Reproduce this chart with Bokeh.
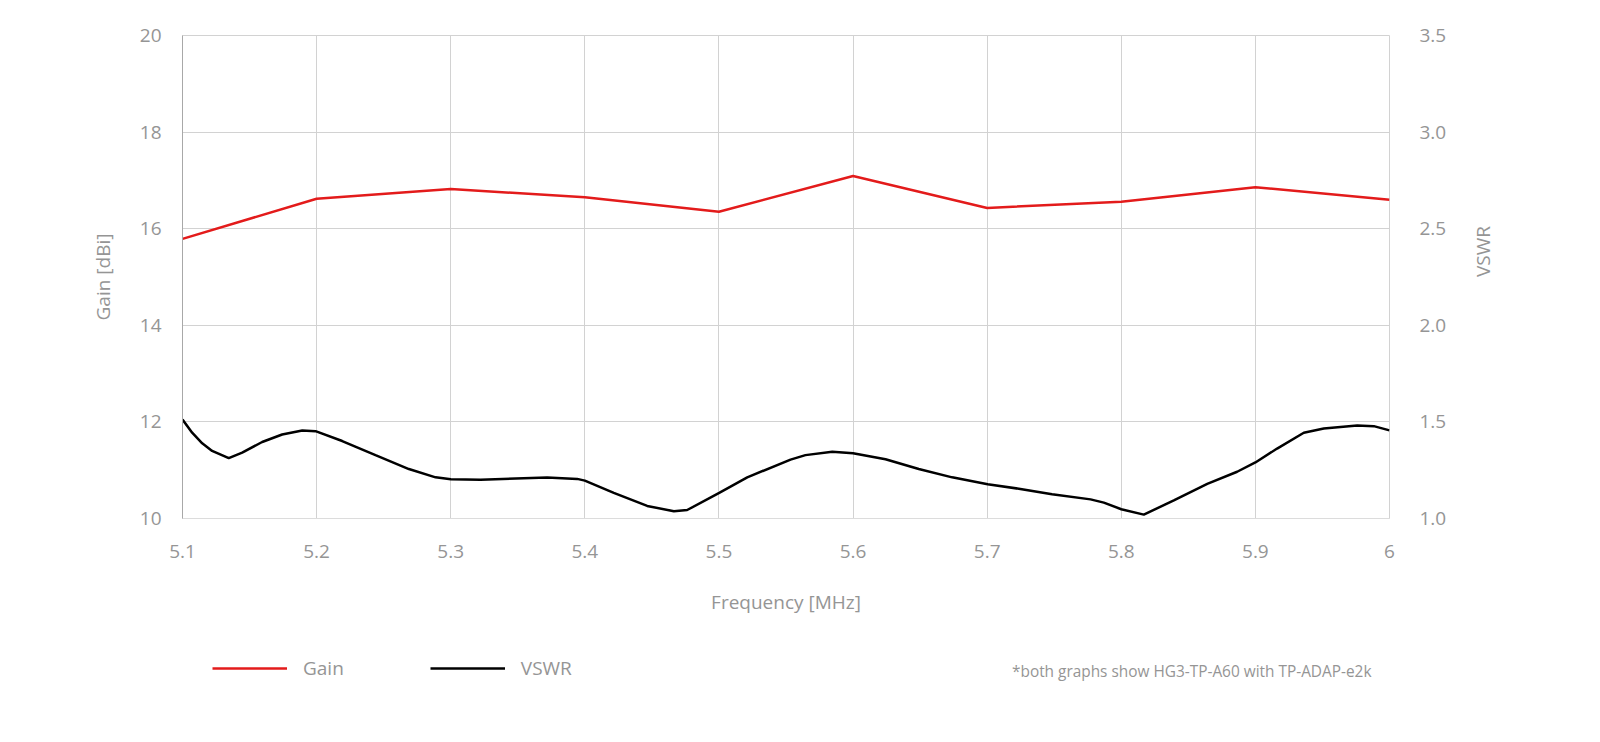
import math
from bokeh.plotting import figure
from bokeh.layouts import column
from bokeh.models import (Range1d, LinearAxis, FixedTicker, Legend, LegendItem,
                          Label, NumeralTickFormatter)
from bokeh.embed import file_html
from bokeh.resources import INLINE

freq_gain = [5.1, 5.2, 5.3, 5.4, 5.5, 5.6, 5.7, 5.8, 5.9, 6.0]
gain = [15.79, 16.62, 16.82, 16.65, 16.35, 17.09, 16.43, 16.56, 16.86, 16.60]

freq_vswr = [5.1000, 5.1072, 5.1147, 5.1221, 5.1345, 5.1445, 5.1594, 5.1743, 5.1893, 5.1992,
             5.2191, 5.2439, 5.2688, 5.2887, 5.3001, 5.3222, 5.3719, 5.3943, 5.4000, 5.4216,
             5.4465, 5.4664, 5.4763, 5.5002, 5.5211, 5.5534, 5.5645, 5.5845, 5.6000, 5.6242,
             5.6490, 5.6739, 5.7004, 5.7236, 5.7484, 5.7771, 5.7870, 5.8000, 5.8168, 5.8392,
             5.8641, 5.8864, 5.9000, 5.9162, 5.9361, 5.9510, 5.9759, 5.9883, 6.0000]
vswr = [1.512, 1.444, 1.389, 1.350, 1.312, 1.341, 1.396, 1.435, 1.456, 1.452,
        1.401, 1.328, 1.256, 1.213, 1.203, 1.201, 1.212, 1.205, 1.196, 1.133,
        1.065, 1.038, 1.044, 1.133, 1.213, 1.305, 1.328, 1.346, 1.338, 1.307,
        1.256, 1.213, 1.177, 1.154, 1.125, 1.099, 1.082, 1.048, 1.020, 1.094,
        1.179, 1.242, 1.290, 1.362, 1.444, 1.466, 1.481, 1.478, 1.456]

x_ticks = [5.1, 5.2, 5.3, 5.4, 5.5, 5.6, 5.7, 5.8, 5.9, 6.0]
gain_ticks = [10, 12, 14, 16, 18, 20]
vswr_ticks = [1.0, 1.5, 2.0, 2.5, 3.0, 3.5]
footnote = "*both graphs show HG3-TP-A60 with TP-ADAP-e2k"

FONT = "Open Sans"
TXT = "#959595"
GRID = "#d2d2d2"
GAIN_COLOR = "#e31b1b"
VSWR_COLOR = "black"

FW, FH = 1207, 483

p = figure(width=1584, height=630, frame_width=FW, frame_height=FH,
           output_backend="svg", toolbar_location=None,
           x_range=Range1d(5.1, 6.0), y_range=Range1d(10, 20),
           min_border_left=182, min_border_right=195, min_border_top=35, min_border_bottom=112)
p.extra_y_ranges = {"vswr": Range1d(1.0, 3.5)}

p.outline_line_color = GRID
p.background_fill_color = "white"
p.border_fill_color = "white"

p.xgrid.ticker = FixedTicker(ticks=x_ticks)
p.ygrid.ticker = FixedTicker(ticks=gain_ticks)
p.xgrid.grid_line_color = GRID
p.ygrid.grid_line_color = GRID

xa = p.xaxis[0]
xa.ticker = FixedTicker(ticks=x_ticks)
xa.major_label_overrides = {6.0: "6"}
xa.axis_line_color = "#dcdcdc"
xa.major_tick_line_color = None
xa.minor_tick_line_color = None
xa.major_label_standoff = 20
xa.axis_label = "Frequency [MHz]"
xa.axis_label_standoff = 28
xa.axis_label_text_font_style = "normal"

ya = p.yaxis[0]
ya.ticker = FixedTicker(ticks=gain_ticks)
ya.axis_line_color = "#a8a8a8"
ya.major_tick_line_color = None
ya.minor_tick_line_color = None
ya.major_label_standoff = 15
ya.axis_label = "Gain [dBi]"
ya.axis_label_standoff = 21
ya.axis_label_text_font_style = "normal"

ra = LinearAxis(y_range_name="vswr", ticker=FixedTicker(ticks=vswr_ticks),
                formatter=NumeralTickFormatter(format="0.0"))
ra.axis_line_color = None
ra.major_tick_line_color = None
ra.minor_tick_line_color = None
ra.major_label_standoff = 24
ra.axis_label = "VSWR"
ra.axis_label_standoff = 34
ra.axis_label_orientation = math.pi / 2
ra.axis_label_text_font_style = "normal"
p.add_layout(ra, "right")

for ax in [xa, ya, ra]:
    ax.major_label_text_font = FONT
    ax.major_label_text_font_size = "19px"
    ax.major_label_text_color = TXT
    ax.axis_label_text_font = FONT
    ax.axis_label_text_font_size = "19px"
    ax.axis_label_text_color = TXT

p.line(freq_gain, gain, line_color=GAIN_COLOR, line_width=2.5)
p.line(freq_vswr, vswr, line_color=VSWR_COLOR, line_width=2.5, y_range_name="vswr")

# bottom strip: legend and footnote (its frame lines up with the chart's frame)
p2 = figure(width=1584, height=96, output_backend="svg", toolbar_location=None,
            x_range=Range1d(0, FW), y_range=Range1d(0, 96),
            min_border=0, x_axis_type=None, y_axis_type=None)
p2.outline_line_color = None
p2.xgrid.visible = False
p2.ygrid.visible = False
lg = p2.line(freq_gain, gain, line_color=GAIN_COLOR, line_width=2.5, visible=False)
lv = p2.line(freq_vswr, vswr, line_color=VSWR_COLOR, line_width=2.5, visible=False)

legend = Legend(items=[LegendItem(label="Gain", renderers=[lg]),
                       LegendItem(label="VSWR", renderers=[lv])],
                orientation="horizontal", location=(30, 45),
                glyph_width=75, glyph_height=20, label_standoff=16, spacing=86,
                padding=0, margin=0,
                label_text_font=FONT, label_text_font_size="19px", label_text_color=TXT,
                border_line_color=None, background_fill_alpha=0)
p2.add_layout(legend, "center")

p2.add_layout(Label(x=FW - 18, y=55, text=footnote, text_align="right", text_baseline="middle",
                    text_font=FONT, text_font_size="15.4px", text_color=TXT))

layout = column(p, p2, spacing=0)
open("out.html", "w").write(file_html(layout, INLINE))
